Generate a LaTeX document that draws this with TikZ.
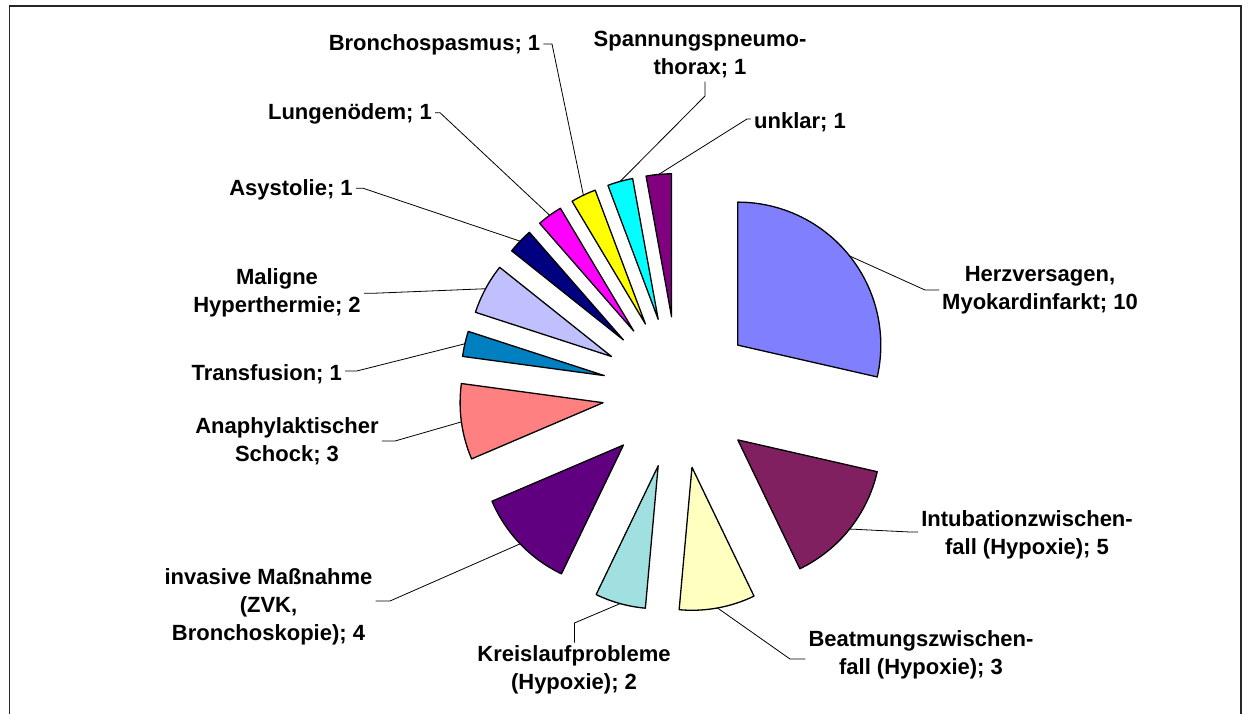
\documentclass[tikz,border=0pt]{standalone}
\usepackage{fontspec}
\setmainfont{Liberation Sans}
\usetikzlibrary{calc}
\definecolor{cHerz}{HTML}{8080FF}
\definecolor{cIntub}{HTML}{802060}
\definecolor{cBeat}{HTML}{FFFFC0}
\definecolor{cKreis}{HTML}{A0E0E0}
\definecolor{cInv}{HTML}{600080}
\definecolor{cAna}{HTML}{FF8080}
\definecolor{cTrans}{HTML}{0080C0}
\definecolor{cMal}{HTML}{C0C0FF}
\definecolor{cAsy}{HTML}{000080}
\definecolor{cLung}{HTML}{FF00FF}
\definecolor{cBron}{HTML}{FFFF00}
\definecolor{cSpan}{HTML}{00FFFF}
\definecolor{cUnk}{HTML}{800080}
\newcommand\pieslc[4]{%
  \pgfmathsetmacro\myaS{90-#1*360/35}%
  \pgfmathsetmacro\myaE{90-#2*360/35}%
  \pgfmathsetmacro\myaM{90-(#1+#2)*180/35}%
  \draw[slice, fill=#3] (C) ++(\myaM:76pt) coordinate (a-#4) -- ++(\myaS:143pt)
     arc[start angle=\myaS, end angle=\myaE, radius=143pt] -- cycle;
  \coordinate (o-#4) at ($(C)+(\myaM:219pt)$);
}
\begin{document}
\begin{tikzpicture}[x=1pt,y=1pt,
  slice/.style={draw=black, line width=1.3pt, line join=round},
  lead/.style={draw=black, line width=0.8pt},
  lab/.style={font=\bfseries\fontsize{22}{28}\selectfont, align=center, inner sep=3pt},
  frame/.style={draw=black!85, line width=1.2pt}]
\useasboundingbox (0,0) rectangle (1251,-713);
\fill[white] (0,0) rectangle (1251,-713);
\draw[frame] (9.5,-720) -- (9.5,-6) -- (1241,-6) -- (1241,-720);
\coordinate (C) at (678.4,-392.5);
\pieslc{0}{10}{cHerz}{herz}
\pieslc{10}{15}{cIntub}{intub}
\pieslc{15}{18}{cBeat}{beat}
\pieslc{18}{20}{cKreis}{kreis}
\pieslc{20}{24}{cInv}{inv}
\pieslc{24}{27}{cAna}{ana}
\pieslc{27}{28}{cTrans}{trans}
\pieslc{28}{30}{cMal}{mal}
\pieslc{30}{31}{cAsy}{asy}
\pieslc{31}{32}{cLung}{lung}
\pieslc{32}{33}{cBron}{bron}
\pieslc{33}{34}{cSpan}{span}
\pieslc{34}{35}{cUnk}{unk}
% labels
\node[lab] (lherz) at (1040,-290.5) {Herzversagen,\\Myokardinfarkt; 10};
\node[lab] (lintub) at (1027,-535) {Intubationzwischen-\\fall (Hypoxie); 5};
\node[lab] (lbeat) at (921,-655) {Beatmungszwischen-\\fall (Hypoxie); 3};
\node[lab] (lkreis) at (574,-670) {Kreislaufprobleme\\(Hypoxie); 2};
\node[lab] (linv) at (268.5,-607) {invasive Maßnahme\\(ZVK,\\Bronchoskopie); 4};
\node[lab] (lana) at (287,-441.5) {Anaphylaktischer\\Schock; 3};
\node[lab] (ltrans) at (266.7,-374) {Transfusion; 1};
\node[lab] (lmal) at (277,-293) {Maligne\\Hyperthermie; 2};
\node[lab] (lasy) at (291,-190) {Asystolie; 1};
\node[lab] (llung) at (350,-114) {Lungenödem; 1};
\node[lab] (lbron) at (434.5,-45) {Bronchospasmus; 1};
\node[lab] (lspan) at (700,-55) {Spannungspneumo-\\thorax; 1};
\node[lab] (lunk) at (800,-122) {unklar; 1};
% elbows
\coordinate (k-herz) at (925,-290);
\coordinate (k-intub) at (910,-532);
\coordinate (k-beat) at (790,-659);
\coordinate (k-kreis) at (574.4,-623);
\coordinate (k-inv) at (390,-601);
\coordinate (k-ana) at (395,-441);
\coordinate (k-trans) at (356.7,-371);
\coordinate (k-mal) at (375,-293.2);
\coordinate (k-asy) at (363.3,-188.3);
\coordinate (k-lung) at (440,-112.7);
\coordinate (k-bron) at (552,-44);
\coordinate (k-span) at (705,-96);
\coordinate (k-unk) at (747,-119);
% leaders
\draw[lead] (o-herz) -- (k-herz) -- (lherz.west |- k-herz);
\draw[lead] (o-intub) -- (k-intub) -- (lintub.west |- k-intub);
\draw[lead] (o-beat) -- (k-beat) -- (lbeat.west |- k-beat);
\draw[lead] (o-kreis) -- (k-kreis) -- (k-kreis |- lkreis.north);
\draw[lead] (o-inv) -- (k-inv) -- (linv.east |- k-inv);
\draw[lead] (o-ana) -- (k-ana) -- (lana.east |- k-ana);
\draw[lead] (o-trans) -- (k-trans) -- (ltrans.east |- k-trans);
\draw[lead] (o-mal) -- (k-mal) -- (lmal.east |- k-mal);
\draw[lead] (o-asy) -- (k-asy) -- (lasy.east |- k-asy);
\draw[lead] (o-lung) -- (k-lung) -- (llung.east |- k-lung);
\draw[lead] (o-bron) -- (k-bron) -- (lbron.east |- k-bron);
\draw[lead] (o-span) -- (k-span) -- (k-span |- lspan.south);
\draw[lead] (o-unk) -- (k-unk) -- (lunk.west |- k-unk);
\end{tikzpicture}
\end{document}
